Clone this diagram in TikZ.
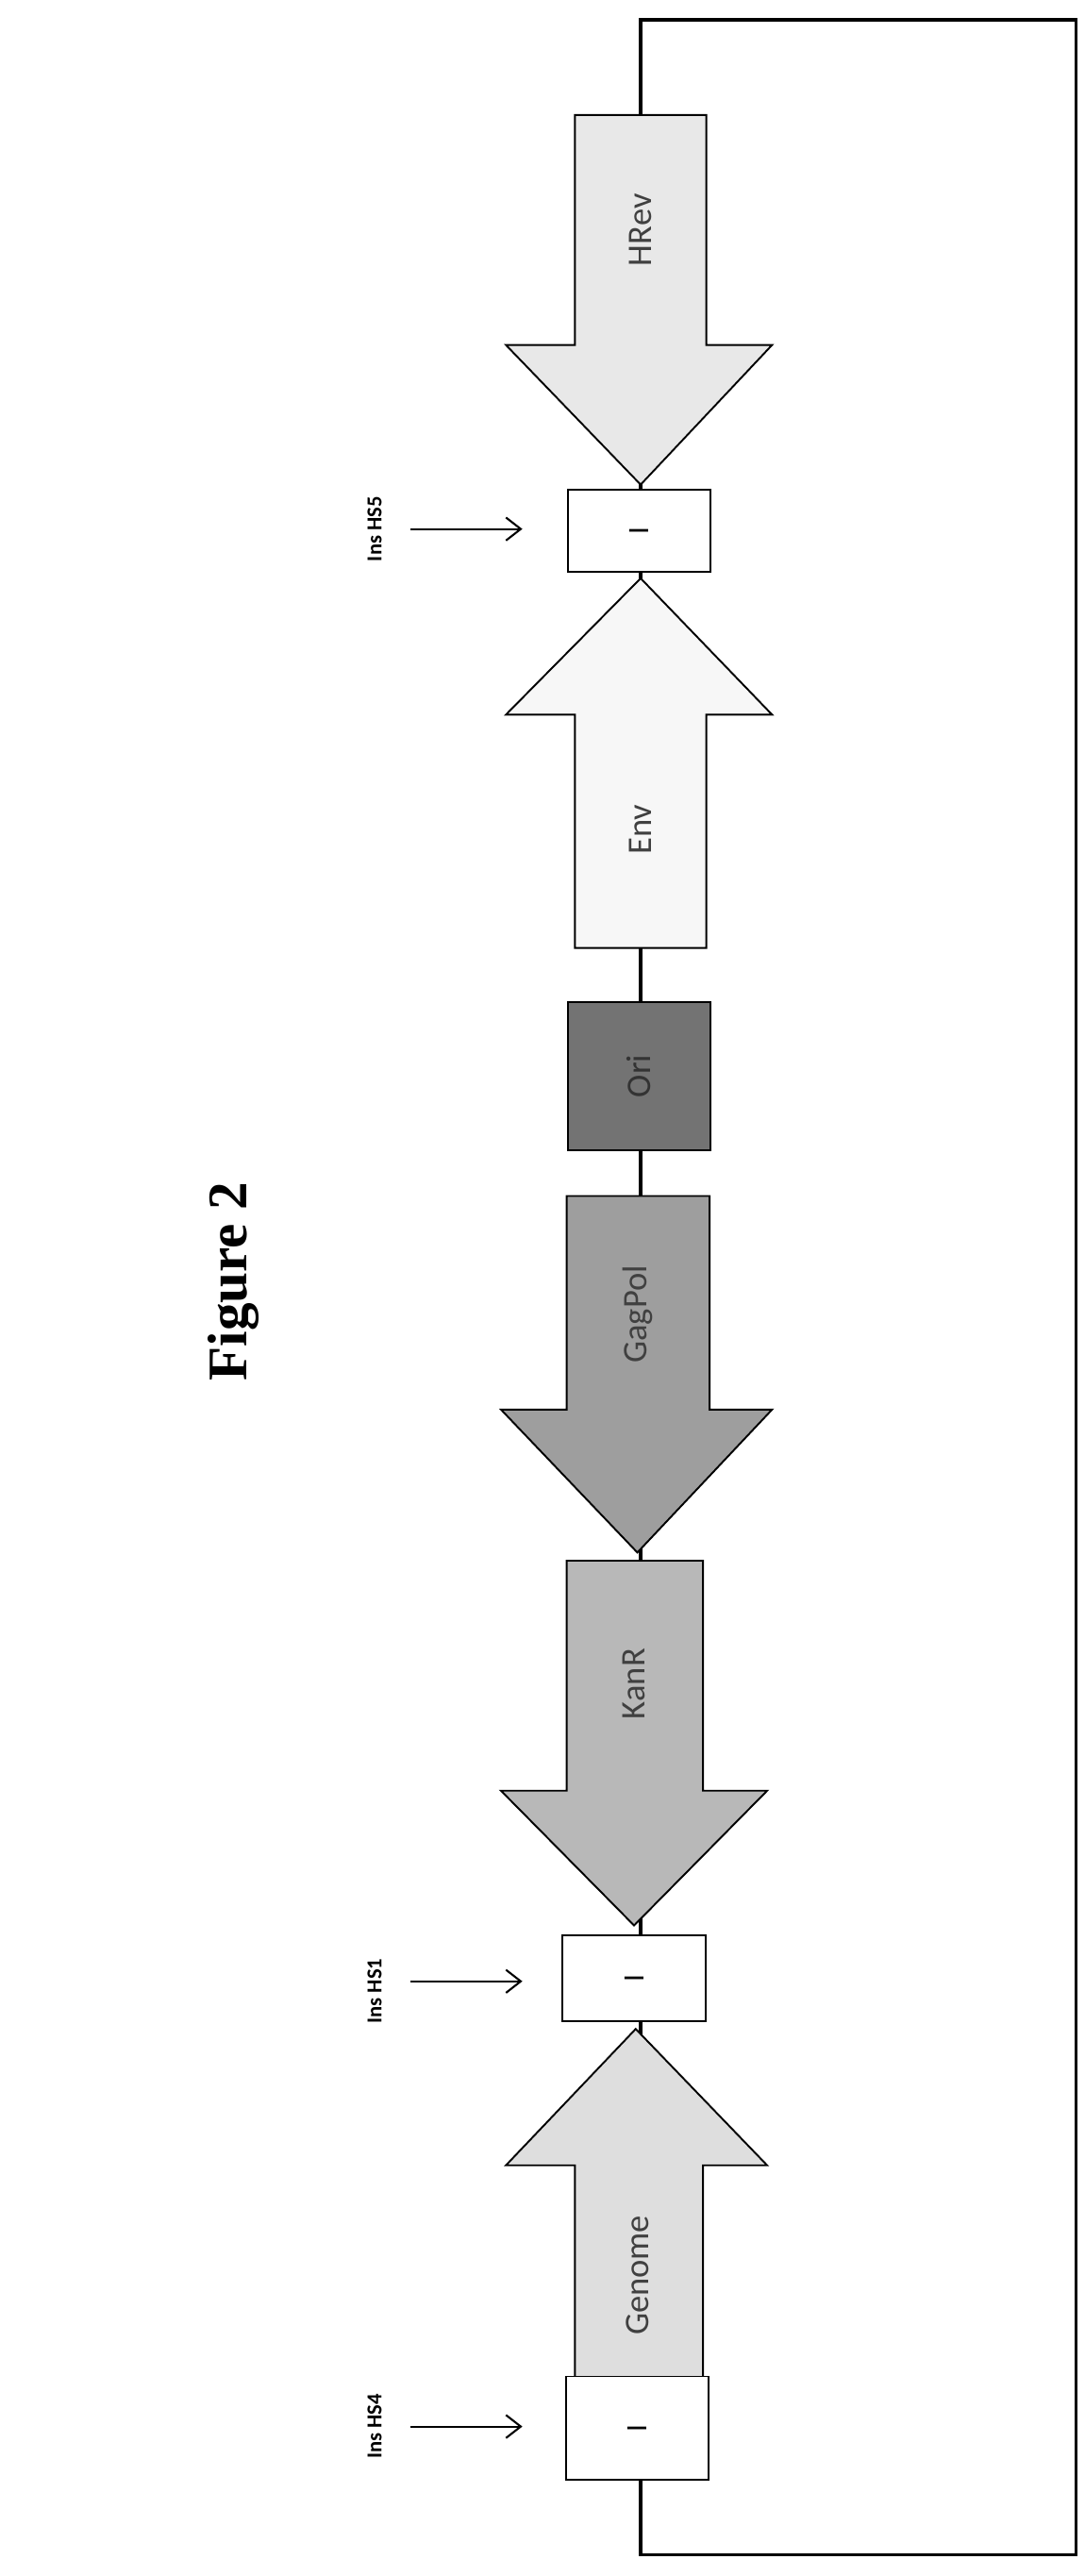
\documentclass[tikz,border=0pt]{standalone}
\usetikzlibrary{arrows.meta}
\usepackage{fontspec}
\setmainfont{Carlito}
\newfontfamily\serifb{Liberation Serif}
\begin{document}
\begin{tikzpicture}[x=1pt,y=-1pt,
  part/.style={draw=black,line width=1.1pt},
  lab/.style={rotate=90,font=\fontsize{21}{24}\selectfont,text=black!75},
  ins/.style={rotate=90,font=\bfseries\fontsize{13}{15}\selectfont},
  pt/.style={-{Straight Barb[length=9pt,width=14pt]},line width=1.2pt}]
\useasboundingbox (0,0) rectangle (660,1568);
% backbone loop
\draw[line width=2pt] (390,1510) -- (390,1555) -- (655,1555) -- (655,12) -- (390,12) -- (390,1510);
% HRev (down)
\filldraw[part,fill=black!9] (350,70) -- (430,70) -- (430,210) -- (470,210) -- (390,295) -- (308,210) -- (350,210) -- cycle;
\node[lab] (hrev) at (390,140) {HRev};
% Env (up)
\filldraw[part,fill=black!3] (390,352) -- (470,435) -- (430,435) -- (430,577) -- (350,577) -- (350,435) -- (308,435) -- cycle;
\node[lab] (env) at (390,505) {Env};
% Ori
\node[part,fill=black!55,minimum width=90pt,minimum height=87pt,lab,text=black!80] (ori) at (389,655) {Ori};
% GagPol (down)
\filldraw[part,fill=black!38] (345,728) -- (432,728) -- (432,858) -- (470,858) -- (388,945) -- (305,858) -- (345,858) -- cycle;
\node[lab] (gag) at (388,800) {GagPol};
% KanR (down)
\filldraw[part,fill=black!28] (345,950) -- (428,950) -- (428,1090) -- (467,1090) -- (386,1172) -- (305,1090) -- (345,1090) -- cycle;
\node[lab] (kan) at (386,1025) {KanR};
% boxes
\node[part,fill=white,minimum width=87pt,minimum height=50pt,font=\fontsize{18}{20}\selectfont] (b5) at (389,323) {\rotatebox{90}{I}};
\node[part,fill=white,minimum width=87pt,minimum height=52pt,font=\fontsize{18}{20}\selectfont] (b1) at (386,1204) {\rotatebox{90}{I}};
% Genome (up)
\filldraw[part,fill=black!13] (387,1235) -- (467,1318) -- (428,1318) -- (428,1447) -- (350,1447) -- (350,1318) -- (308,1318) -- cycle;
\node[lab] (gen) at (388,1385) {Genome};
\node[part,fill=white,minimum width=87pt,minimum height=63pt,font=\fontsize{18}{20}\selectfont] (b4) at (388,1478) {\rotatebox{90}{I}};
% Ins labels and arrows
\node[ins] (i5) at (228,322) {Ins HS5};
\node[ins] (i1) at (228,1212) {Ins HS1};
\node[ins] (i4) at (228,1477) {Ins HS4};
\coordinate (a5) at (250,322); \coordinate (a5e) at (318,322);
\coordinate (a1) at (250,1206); \coordinate (a1e) at (318,1206);
\coordinate (a4) at (250,1477); \coordinate (a4e) at (318,1477);
\draw[pt] (a5) -- (a5e);
\draw[pt] (a1) -- (a1e);
\draw[pt] (a4) -- (a4e);
% title
\node[rotate=90,font=\serifb\bfseries\fontsize{34}{38}\selectfont] (title) at (142,780) {Figure 2};
\end{tikzpicture}
\end{document}
